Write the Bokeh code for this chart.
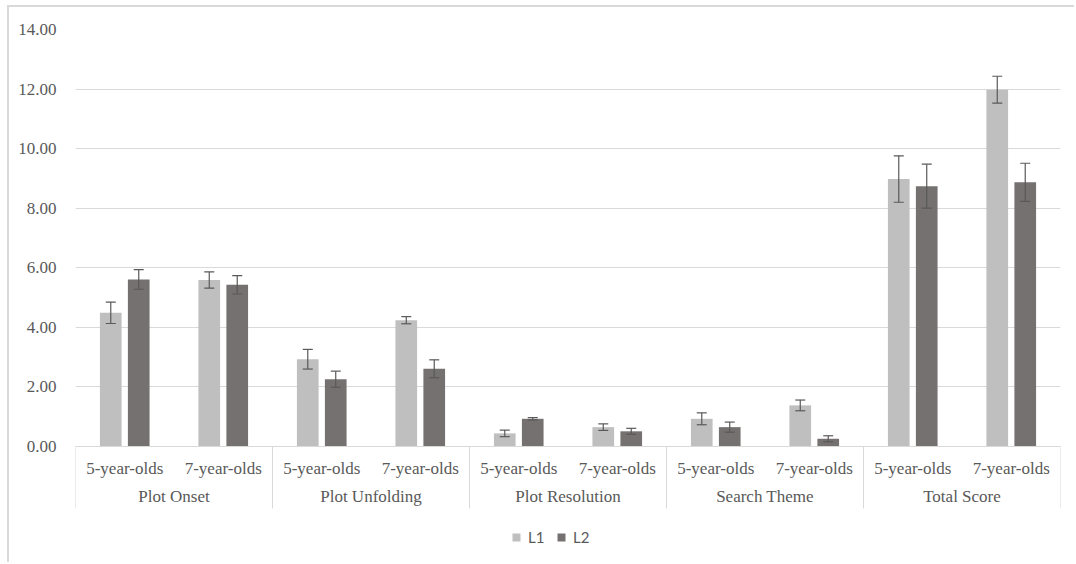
from bokeh.plotting import figure
from bokeh.models import (FactorRange, Range1d, ColumnDataSource, Whisker, TeeHead,
                          FixedTicker, NumeralTickFormatter, Legend, LegendItem)
from bokeh.transform import dodge
from bokeh.embed import file_html
from bokeh.resources import INLINE

# ---- data ----
measures = ["Plot Onset", "Plot Unfolding", "Plot Resolution", "Search Theme", "Total Score"]
ages = ["5-year-olds", "7-year-olds"]
series = ["L1", "L2"]
l1_mean = [4.49, 5.59, 2.93, 4.24, 0.44, 0.65, 0.93, 1.38, 8.98, 11.98]
l1_err = [0.36, 0.27, 0.33, 0.12, 0.11, 0.11, 0.20, 0.18, 0.78, 0.45]
l2_mean = [5.61, 5.43, 2.26, 2.61, 0.93, 0.51, 0.65, 0.26, 8.74, 8.87]
l2_err = [0.33, 0.31, 0.27, 0.30, 0.04, 0.10, 0.17, 0.10, 0.74, 0.64]
y_ticks = [0, 2, 4, 6, 8, 10, 12, 14]

factors = [(m, a) for m in measures for a in ages]
src = ColumnDataSource(dict(
    x=factors,
    l1=l1_mean, l1_lo=[m - e for m, e in zip(l1_mean, l1_err)], l1_hi=[m + e for m, e in zip(l1_mean, l1_err)],
    l2=l2_mean, l2_lo=[m - e for m, e in zip(l2_mean, l2_err)], l2_hi=[m + e for m, e in zip(l2_mean, l2_err)],
))

TEXT = "#595959"
GRID = "#D9D9D9"
SERIF = "Liberation Serif"

xr = FactorRange(*factors, group_padding=0, factor_padding=0, range_padding=0)
p = figure(x_range=xr, y_range=Range1d(-3.693, 14), width=1067, height=557,
           output_backend="svg", toolbar_location=None,
           min_border_left=66, min_border_right=16, min_border_top=22, min_border_bottom=8)
p.styles = {"margin-left": "7px", "margin-top": "5px",
            "border-left": "2px solid #D9D9D9", "border-top": "2px solid #D9D9D9"}
p.outline_line_color = None
p.background_fill_color = "white"
p.border_fill_color = "white"

# separators below the axis at the group boundaries
bounds = [len(ages) * i for i in range(len(measures) + 1)]
p.segment(x0=bounds, y0=[0] * len(bounds), x1=bounds, y1=[-2.08] * len(bounds),
          line_color=GRID, line_width=1)

off = 0.142
bw = 0.22
r1 = p.vbar(x=dodge("x", -off, range=xr), top="l1", width=bw, source=src,
            fill_color="#BFBFBF", line_color=None)
r2 = p.vbar(x=dodge("x", off, range=xr), top="l2", width=bw, source=src,
            fill_color="#767171", line_color=None)

for key, o in (("l1", -off), ("l2", off)):
    w = Whisker(source=src, base=dodge("x", o, range=xr), upper=key + "_hi", lower=key + "_lo",
                line_color="#595959", line_width=1.2, level="overlay",
                upper_head=TeeHead(size=10, line_color="#595959", line_width=1.2),
                lower_head=TeeHead(size=10, line_color="#595959", line_width=1.2))
    p.add_layout(w)

# y axis
p.yaxis.ticker = FixedTicker(ticks=y_ticks)
p.yaxis.formatter = NumeralTickFormatter(format="0.00")
p.yaxis.axis_line_color = None
p.yaxis.major_tick_line_color = None
p.yaxis.minor_tick_line_color = None
p.yaxis.major_label_standoff = 13
p.yaxis.major_label_text_font = SERIF
p.yaxis.major_label_text_font_size = "17px"
p.yaxis.major_label_text_color = TEXT
p.ygrid.ticker = FixedTicker(ticks=y_ticks)
p.ygrid.grid_line_color = GRID
p.xgrid.grid_line_color = None

# x axis at y=0
xa = p.xaxis[0]
xa.fixed_location = 0
xa.axis_line_color = GRID
xa.major_tick_line_color = None
xa.minor_tick_line_color = None
xa.separator_line_color = None
xa.major_label_standoff = 6
xa.major_label_text_font = SERIF
xa.major_label_text_font_size = "17px"
xa.major_label_text_color = TEXT
xa.group_text_font = SERIF
xa.group_text_font_size = "17px"
xa.group_text_color = TEXT
xa.group_text_font_style = "normal"

legend = Legend(items=[LegendItem(label=series[0], renderers=[r1]),
                       LegendItem(label=series[1], renderers=[r2])],
                orientation="horizontal", location=(436, 10),
                glyph_width=10, glyph_height=10, label_height=10, label_standoff=7, spacing=8,
                padding=0, margin=0, border_line_color=None, background_fill_alpha=0,
                label_text_font="Lato", label_text_font_size="15px", label_text_color=TEXT)
p.add_layout(legend)

open("out.html", "w").write(file_html(p, INLINE))
